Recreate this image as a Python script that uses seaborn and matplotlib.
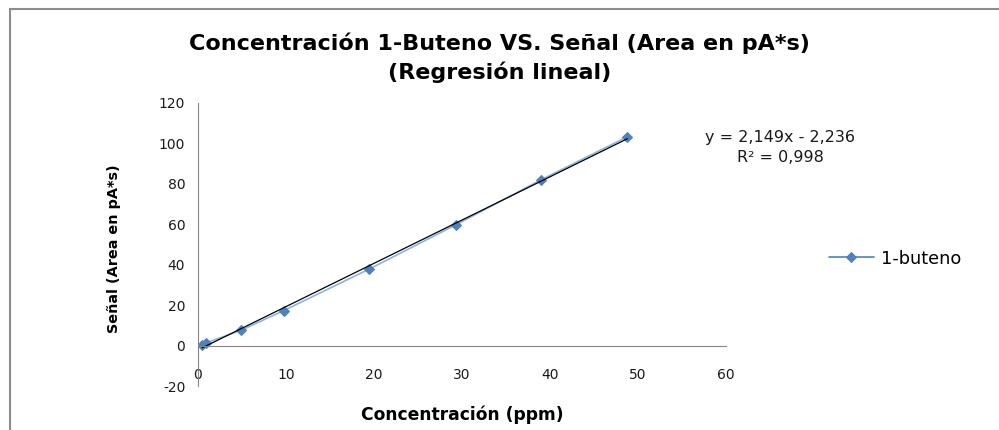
import numpy as np
import pandas as pd
import matplotlib
matplotlib.use("Agg")
import matplotlib.pyplot as plt
import seaborn as sns

# datos
concentracion = [0.49, 0.98, 4.88, 9.76, 19.5, 29.3, 39.0, 48.8]
senal = [0.5, 1.4, 7.5, 17.3, 37.9, 59.7, 82.0, 103.3]
x_ticks = [0, 10, 20, 30, 40, 50, 60]
y_ticks = [-20, 0, 20, 40, 60, 80, 100, 120]

df = pd.DataFrame({"Concentracion": concentracion, "Senal": senal})

sns.set_style("white")
plt.rcParams["font.family"] = ["DejaVu Sans"]
plt.rcParams["axes.unicode_minus"] = False
plt.rcParams["text.color"] = "black"
plt.rcParams["axes.labelcolor"] = "black"

fig = plt.figure(figsize=(9.99, 4.30), dpi=100)
ax = fig.add_axes([0.198, 0.1023, 0.5287, 0.6582])

# serie con marcadores
sns.lineplot(data=df, x="Concentracion", y="Senal", ax=ax, color="#8DB3E2",
             linewidth=1.2, marker="D", markersize=5.5, markerfacecolor="#4F81BD",
             markeredgecolor="#4F81BD", label="1-buteno")

# linea de tendencia
sns.regplot(data=df, x="Concentracion", y="Senal", ax=ax, scatter=False, ci=None,
            truncate=True, line_kws={"color": "black", "linewidth": 0.9})

ax.set_xlim(0, 60)
ax.set_ylim(-20, 120)
ax.set_xticks(x_ticks)
ax.set_yticks(y_ticks)

for s in ["top", "right"]:
    ax.spines[s].set_visible(False)
ax.spines["bottom"].set_position(("data", 0))
ax.spines["left"].set_color("#868686")
ax.spines["bottom"].set_color("#868686")
ax.tick_params(axis="both", direction="out", length=5, color="#868686",
               labelsize=10, labelcolor="#1a1a1a")
ax.tick_params(axis="x", pad=11)
ax.tick_params(axis="y", pad=4)

ax.set_xlabel("Concentración (ppm)", fontsize=12.3, fontweight="bold")
ax.set_ylabel("Señal (Area en pA*s)", fontsize=10.4, fontweight="bold")
ax.xaxis.set_label_coords(0.5, -0.07)
ax.yaxis.set_label_coords(-0.145, 0.485)

fig.text(0.5, 0.9, "Concentración 1-Buteno VS. Señal (Area en pA*s)", ha="center",
         va="center", fontsize=16, fontweight="bold")
fig.text(0.5, 0.832, "(Regresión lineal)", ha="center", va="center",
         fontsize=16, fontweight="bold")

fig.text(0.781, 0.68, "y = 2,149x - 2,236", ha="center", va="center", fontsize=11.5,
         color="#1a1a1a")
fig.text(0.781, 0.633, "R² = 0,998", ha="center", va="center", fontsize=11.5,
         color="#1a1a1a")

leg = ax.legend(loc="center left", bbox_to_anchor=(1.165, 0.45), frameon=False,
                fontsize=12.8, handlelength=2.5, handletextpad=0.4)
for h in leg.get_lines():
    h.set_color("#4F81BD")

# marco del grafico
fig.add_artist(plt.Line2D([0.01, 1.0], [0.979, 0.979], color="#8C8C8C", linewidth=1.5,
                          transform=fig.transFigure))
fig.add_artist(plt.Line2D([0.01, 0.01], [0.0, 0.979], color="#8C8C8C", linewidth=1.5,
                          transform=fig.transFigure))

plt.savefig("out.png", dpi=100)
